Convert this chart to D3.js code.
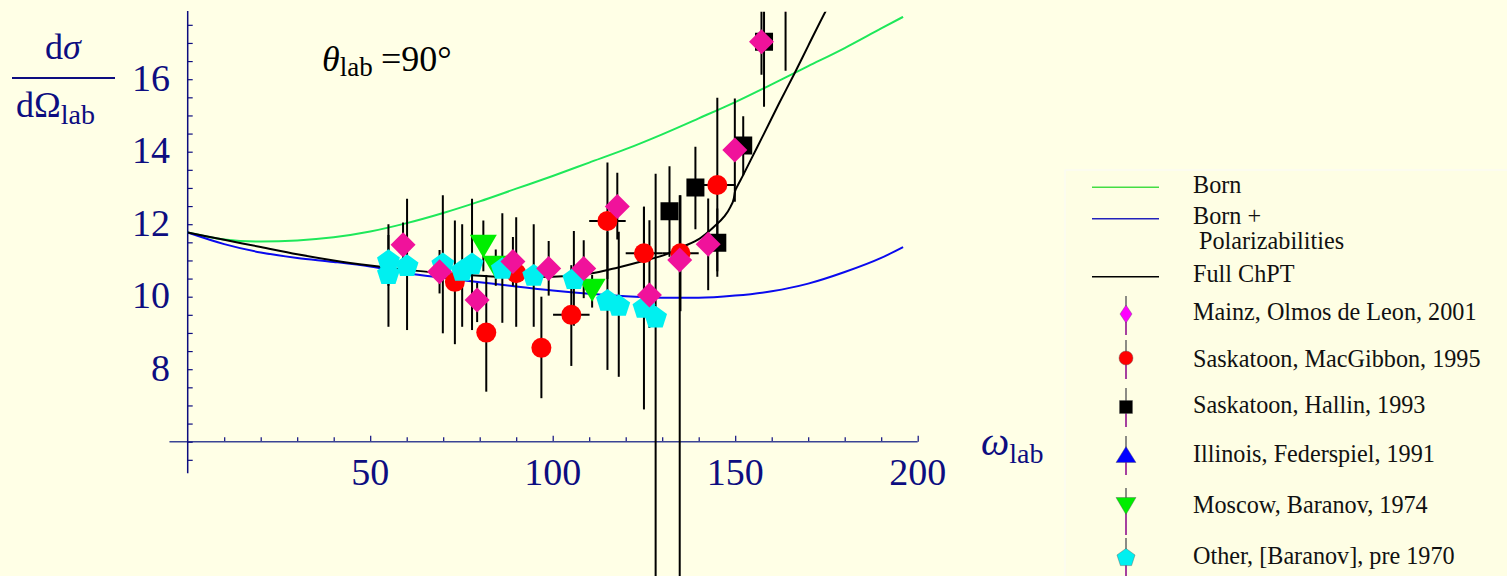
<!DOCTYPE html>
<html><head><meta charset="utf-8">
<script src="https://cdn.jsdelivr.net/npm/d3@7"></script>
<style>body{margin:0;background:#ffffe6}svg{display:block}</style>
</head><body><svg id="c" width="1507" height="576"></svg>
<script>
// ---- data: [omega_lab, dsigma, lowerEnd, upperEnd, omegaHalfWidth]
const mainz = [
  [59.0,11.43,10.8,12.05,0],[69.0,10.69,10.09,11.29,0],[79.3,9.91,9.3,10.38,0],
  [89.1,10.97,10.3,11.65,0],[98.9,10.78,10.03,11.54,0],[108.5,10.78,9.96,11.56,0],
  [117.7,12.49,11.58,13.42,0],[126.5,10.05,9.14,12.11,0],[134.8,11.01,2.2,12.8,0],
  [142.6,11.45,10.18,12.71,0],[149.9,14.05,12.62,15.47,0],[157.2,17.03,16.12,17.9,0],
  [163.8,18.2,16.23,20.2,0]
];
const macgibbon = [
  [73.2,10.41,8.69,12.1,0],[81.8,9.01,7.38,10.6,0],[90.0,10.65,9.17,12.19,0],
  [96.9,8.59,7.2,10.0,0],[105.1,9.50,8.09,10.87,5],[115.0,12.09,10.49,13.7,5],
  [125.0,11.20,9.9,12.48,5],[135.0,11.20,9.6,12.8,5],[145.1,13.08,10.7,15.49,5]
];
const hallin = [
  [132.0,12.36,11.1,13.6,0],[139.1,13.01,11.86,14.14,0],[145.1,11.49,10.55,12.43,0],
  [152.2,14.17,13.35,14.98,0],[157.9,17.03,15.24,18.9,0]
];
const federspiel = [];
const baranov = [
  [81.0,11.39,10.7,12.1,0],[84.4,10.81,10.3,11.3,0],[110.8,10.18,9.7,10.6,0]
];
const other = [
  [55.0,11.01,10.3,11.7,0],[55.0,10.65,9.17,12.0,0],[60.1,10.87,9.08,12.7,0],
  [69.9,10.92,8.99,12.8,0],[75.2,10.74,9.17,12.0,0],[77.9,10.92,9.08,12.7,0],
  [86.2,10.79,9.28,12.3,0],[94.8,10.60,9.17,12.0,0],[105.8,10.51,9.2,11.81,0],
  [115.0,9.91,7.98,11.79,0],[118.1,9.77,7.79,11.79,0],[125.0,9.72,6.89,12.48,0],
  [128.2,9.45,2.2,13.39,0]
];
// theory curves [omega, dsigma]
const born = [[0,11.77],[10,11.58],[20,11.52],[30,11.55],[40,11.64],[50,11.8],[60,12.03],
  [70,12.31],[80,12.63],[90,12.98],[100,13.33],[110,13.7],[120,14.07],[130,14.48],
  [140,14.92],[150,15.37],[160,15.86],[170,16.36],[180,16.86],[190,17.4],[196,17.72]];
const bornPol = [[0,11.77],[10,11.45],[20,11.22],[30,11.07],[40,10.96],[50,10.83],[60,10.65],
  [70,10.52],[80,10.40],[90,10.28],[100,10.17],[110,10.08],[120,10.01],[130,9.97],
  [140,9.97],[150,10.03],[160,10.15],[170,10.36],[180,10.68],[190,11.07],[196,11.37]];
const chpt = [[0,11.77],[10,11.57],[20,11.37],[30,11.17],[40,11.0],[50,10.86],[60,10.74],
  [70,10.65],[80,10.58],[90,10.54],[100,10.55],[110,10.63],[117.7,10.8],[125,10.99],
  [131.4,11.18],[135,11.35],[140.5,11.62],[144.2,11.93],[146.9,12.2],[148.7,12.48],
  [149.6,12.7],[150.0,12.92],[150.6,13.05],[152,13.32],[155,13.92],[157.9,14.5],
  [162,15.33],[166.1,16.13],[170,16.92],[174.8,17.88],[177,18.3]];
const xTickLabels = [50,100,150,200];
const yTickLabels = [8,10,12,14,16];
const legendNames = ["Born","Born +"," Polarizabilities","Full ChPT",
  "Mainz, Olmos de Leon, 2001","Saskatoon, MacGibbon, 1995","Saskatoon, Hallin, 1993",
  "Illinois, Federspiel, 1991","Moscow, Baranov, 1974","Other, [Baranov], pre 1970"];

// ---- drawing
const svg = d3.select("#c");
const NAVY = "#0d0d80", SERIF = "Liberation Serif, Times New Roman, serif";
svg.append("rect").attr("width",1507).attr("height",576).attr("fill","#ffffe6");

const x = d3.scaleLinear().domain([0,200]).range([187.7,917.7]);
const y = d3.scaleLinear().domain([6,16]).range([441.7,79.2]);

// axes
const gx = svg.append("g").attr("transform",`translate(0,${y(6)})`)
  .call(d3.axisBottom(x).tickValues(d3.range(10,201,10)).tickSize(0).tickFormat(""));
gx.select(".domain").remove();
gx.selectAll(".tick line").attr("y2",d=>d%50===0?-6:-4.5).attr("stroke",NAVY).attr("stroke-width",1.2);
svg.append("line").attr("x1",x(-5)).attr("x2",x(200)).attr("y1",y(6)).attr("y2",y(6))
  .attr("stroke","#3a4494").attr("stroke-width",1.6);

const gy = svg.append("g").attr("transform",`translate(${x(0)},0)`)
  .call(d3.axisLeft(y).tickValues(d3.range(5.5,17.6,0.5)).tickSize(0).tickFormat(""));
gy.select(".domain").remove();
gy.selectAll(".tick line").attr("x2",5).attr("stroke",NAVY).attr("stroke-width",1.2);
svg.append("line").attr("x1",x(0)).attr("x2",x(0)).attr("y1",y(5.13)).attr("y2",y(17.88))
  .attr("stroke",NAVY).attr("stroke-width",1.5);

svg.selectAll(".xl").data(xTickLabels).join("text").attr("class","xl")
  .attr("x",d=>x(d)).attr("y",485).attr("text-anchor","middle")
  .attr("font-family",SERIF).attr("font-size",38).attr("fill",NAVY).text(d=>d);
svg.selectAll(".yl").data(yTickLabels).join("text").attr("class","yl")
  .attr("x",170).attr("y",d=>y(d)+11.5).attr("text-anchor","end")
  .attr("font-family",SERIF).attr("font-size",38).attr("fill",NAVY).text(d=>d);

// y label fraction
const t1 = svg.append("text").attr("x",63).attr("y",58.7).attr("text-anchor","middle")
  .attr("font-family",SERIF).attr("font-size",36).attr("fill",NAVY);
t1.append("tspan").text("d"); t1.append("tspan").attr("font-style","italic").text("σ");
svg.append("line").attr("x1",12).attr("x2",115).attr("y1",78).attr("y2",78)
  .attr("stroke",NAVY).attr("stroke-width",2);
const t2 = svg.append("text").attr("x",16).attr("y",117.3)
  .attr("font-family",SERIF).attr("font-size",36).attr("fill",NAVY);
t2.append("tspan").text("dΩ");
t2.append("tspan").attr("font-size",28).attr("dy",7).text("lab");

// theta label
const th = svg.append("text").attr("x",322).attr("y",70.7)
  .attr("font-family",SERIF).attr("font-size",36).attr("fill","#000");
th.append("tspan").attr("font-style","italic").text("θ");
th.append("tspan").attr("font-size",27).attr("dy",5).text("lab");
th.append("tspan").attr("dy",-5).attr("x",381).text("=90°");

// omega label
const om = svg.append("text").attr("x",981).attr("y",455)
  .attr("font-family",SERIF).attr("font-size",40).attr("fill",NAVY);
om.append("tspan").attr("font-style","italic").text("ω");
om.append("tspan").attr("font-size",28).attr("dy",8).text("lab");

// plot content (clipped at top)
svg.append("clipPath").attr("id","clip").append("rect")
  .attr("x",0).attr("y",11.7).attr("width",1060).attr("height",600);
const plot = svg.append("g").attr("clip-path","url(#clip)");

const line = d3.line().x(d=>x(d[0])).y(d=>y(d[1])).curve(d3.curveMonotoneX);
plot.append("path").datum(born).attr("d",line).attr("fill","none").attr("stroke","#1ee85a").attr("stroke-width",2);
plot.append("path").datum(bornPol).attr("d",line).attr("fill","none").attr("stroke","#0a0aee").attr("stroke-width",2);
plot.append("path").datum(chpt).attr("d",line).attr("fill","none").attr("stroke","#000").attr("stroke-width",2);

// marker shapes
function shape(type){
  if(type==="diamond"){const r=12.5;return `M0,${-r}L${r},0L0,${r}L${-r},0Z`;}
  if(type==="square"){const h=9;return `M${-h},${-h}H${h}V${h}H${-h}Z`;}
  if(type==="circle"){const r=10;return `M${r},0A${r},${r},0,1,1,${-r},0A${r},${r},0,1,1,${r},0Z`;}
  if(type==="down"){return `M-13.5,-11.5L13.5,-11.5L0,11.5Z`;}
  if(type==="up"){return `M-13.5,11.5L13.5,11.5L0,-11.5Z`;}
  if(type==="pent"){const R=12;let p=[];for(let k=0;k<5;k++){const a=(-90+72*k)*Math.PI/180;p.push([R*Math.cos(a),R*Math.sin(a)+1.1]);}
    return "M"+p.map(q=>q.join(",")).join("L")+"Z";}
}
const series = [
  {data:macgibbon,type:"circle",color:"#ff0000"},
  {data:hallin,type:"square",color:"#000000"},
  {data:federspiel,type:"up",color:"#0000ff"},
  {data:baranov,type:"down",color:"#00ee00"},
  {data:other,type:"pent",color:"#00f0f0"},
  {data:mainz,type:"diamond",color:"#f0129b"}
];
// error bars
series.forEach(s=>{
  plot.append("g").selectAll("line").data(s.data).join("line")
    .attr("x1",d=>x(d[0])).attr("x2",d=>x(d[0])).attr("y1",d=>y(d[2])).attr("y2",d=>y(d[3]))
    .attr("stroke","#000").attr("stroke-width",2);
  plot.append("g").selectAll("line").data(s.data.filter(d=>d[4]>0)).join("line")
    .attr("x1",d=>x(d[0]-d[4])).attr("x2",d=>x(d[0]+d[4])).attr("y1",d=>y(d[1])).attr("y2",d=>y(d[1]))
    .attr("stroke","#000").attr("stroke-width",2);
});
series.forEach(s=>{
  plot.append("g").selectAll("path").data(s.data).join("path")
    .attr("transform",d=>`translate(${x(d[0])},${y(d[1])})`)
    .attr("d",shape(s.type)).attr("fill",s.color);
});

// legend
const lg = svg.append("g");
lg.append("rect").attr("x",1065).attr("y",170).attr("width",450).attr("height",420)
  .attr("fill","#fefee4").attr("stroke","#fbfbf2").attr("stroke-width",1.5);
const lineItems = [{c:"#44dd44",y:187.3},{c:"#2222bb",y:218.7},{c:"#000",y:276.7}];
lg.selectAll(".ll").data(lineItems).join("line").attr("class","ll")
  .attr("x1",1092).attr("x2",1159).attr("y1",d=>d.y).attr("y2",d=>d.y)
  .attr("stroke",d=>d.c).attr("stroke-width",1.6);
const textPos = [[1193,193.3],[1193,224.3],[1193,249.3],[1193,282.3],[1193,320],
  [1193,366.5],[1193,413.3],[1193,461.7],[1193,512.7],[1193,564]];
lg.selectAll(".lt").data(legendNames).join("text").attr("class","lt")
  .attr("x",(d,i)=>textPos[i][0]).attr("y",(d,i)=>textPos[i][1])
  .attr("font-family",SERIF).attr("font-size",24.2).attr("fill","#111")
  .attr("xml:space","preserve").style("white-space","pre").text(d=>d);
const legMarks = [
  {y:314,t:"ldiamond",c:"#ff00ff",top:296,bot:335},
  {y:358,t:"lcircle",c:"#ff0000",top:340,bot:379},
  {y:407,t:"lsquare",c:"#000",top:388,bot:427},
  {y:455,t:"lup",c:"#0000ff",top:436,bot:475},
  {y:506,t:"ldown",c:"#00ee00",top:488,bot:535},
  {y:557,t:"lpent",c:"#00f0f0",top:538,bot:578}
];
function lshape(t){
  if(t==="ldiamond") return "M0,-9L6,0L0,9L-6,0Z";
  if(t==="lcircle") return "M7,0A7,7,0,1,1,-7,0A7,7,0,1,1,7,0Z";
  if(t==="lsquare") return "M-6.5,-6.5H6.5V6.5H-6.5Z";
  if(t==="lup") return "M-10,7.5L10,7.5L0,-8.5Z";
  if(t==="ldown") return "M-10,-8.5L10,-8.5L0,8.5Z";
  if(t==="lpent"){const R=9.5;let p=[];for(let k=0;k<5;k++){const a=(-90+72*k)*Math.PI/180;p.push([R*Math.cos(a),R*Math.sin(a)+0.9]);}
    return "M"+p.map(q=>q.join(",")).join("L")+"Z";}
}
const lm = lg.selectAll(".lm").data(legMarks).join("g").attr("class","lm")
  .attr("transform",d=>`translate(1126,${d.y})`);
lm.append("line").attr("y1",d=>d.top-d.y).attr("y2",0).attr("stroke","#666").attr("stroke-width",1.5);
lm.append("line").attr("y1",0).attr("y2",d=>d.bot-d.y).attr("stroke","#880088").attr("stroke-width",1.5);
lm.append("path").attr("d",d=>lshape(d.t)).attr("fill",d=>d.c).attr("stroke","#555").attr("stroke-width",0.4);
</script></body></html>
